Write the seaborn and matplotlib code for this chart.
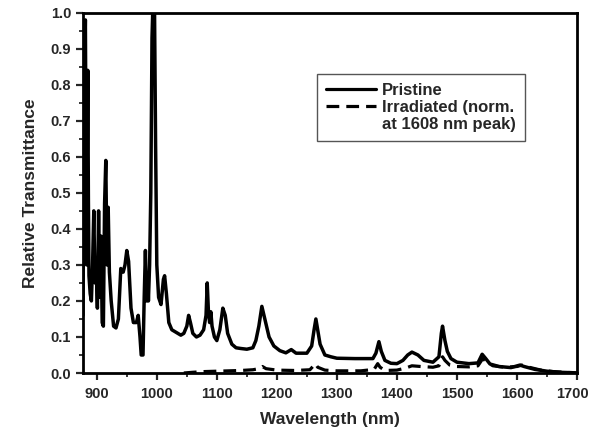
import numpy as np
import pandas as pd
import matplotlib
matplotlib.use("Agg")
import matplotlib.pyplot as plt
from matplotlib.lines import Line2D
from matplotlib.ticker import MultipleLocator, FormatStrFormatter
from matplotlib.transforms import ScaledTranslation
import seaborn as sns

# Pristine spectrum (wavelength nm, relative transmittance)
pristine_wl = [877, 879, 881, 883, 885, 886, 887, 889, 891, 893, 895, 897, 899, 901, 903, 905,
               907, 909, 911, 913, 915, 917, 919, 921, 924, 928, 932, 936, 940, 944, 947, 950,
               953, 957, 961, 966, 969, 972, 974, 977, 979, 981, 983, 985, 986, 988, 990, 992,
               994, 996, 998, 1000, 1003, 1007, 1011, 1013, 1016, 1020, 1025, 1035, 1040, 1045,
               1050, 1053, 1056, 1060, 1066, 1072, 1078, 1082, 1084, 1086, 1088, 1090, 1092,
               1096, 1100, 1105, 1110, 1114, 1118, 1125, 1132, 1140, 1150, 1160, 1165, 1170,
               1175, 1180, 1187, 1195, 1205, 1215, 1224, 1232, 1250, 1258, 1262, 1265, 1268,
               1272, 1280, 1290, 1300, 1330, 1360, 1365, 1370, 1374, 1380, 1390, 1400, 1410,
               1418, 1425, 1435, 1445, 1460, 1470, 1474, 1476, 1480, 1484, 1490, 1500, 1520,
               1535, 1542, 1548, 1555, 1570, 1590, 1605, 1612, 1630, 1650, 1670, 1690, 1700]
pristine_t = [0.16, 0.78, 0.98, 0.30, 0.84, 0.49, 0.27, 0.22, 0.20, 0.30, 0.45, 0.25, 0.30, 0.18,
              0.45, 0.21, 0.38, 0.14, 0.13, 0.47, 0.59, 0.30, 0.46, 0.28, 0.20, 0.13, 0.125, 0.15,
              0.29, 0.28, 0.30, 0.34, 0.31, 0.18, 0.14, 0.14, 0.16, 0.10, 0.05, 0.05, 0.21, 0.34,
              0.20, 0.27, 0.20, 0.30, 0.50, 0.93, 1.05, 1.05, 0.63, 0.30, 0.21, 0.19, 0.26, 0.27,
              0.22, 0.14, 0.12, 0.11, 0.105, 0.11, 0.13, 0.16, 0.14, 0.11, 0.10, 0.105, 0.12,
              0.16, 0.25, 0.17, 0.14, 0.17, 0.13, 0.10, 0.09, 0.12, 0.18, 0.16, 0.11, 0.08, 0.07,
              0.068, 0.066, 0.07, 0.09, 0.13, 0.185, 0.15, 0.10, 0.075, 0.062, 0.056, 0.065,
              0.055, 0.055, 0.075, 0.12, 0.15, 0.12, 0.08, 0.05, 0.045, 0.041, 0.040, 0.040,
              0.055, 0.087, 0.06, 0.035, 0.027, 0.026, 0.035, 0.05, 0.058, 0.05, 0.035, 0.03,
              0.045, 0.11, 0.13, 0.09, 0.06, 0.04, 0.03, 0.026, 0.028, 0.052, 0.04, 0.025, 0.018,
              0.015, 0.022, 0.018, 0.010, 0.005, 0.002, 0.001, 0.0]

# Irradiated spectrum (normalised at the 1608 nm peak)
irr_wl = [1045, 1060, 1080, 1100, 1120, 1140, 1160, 1170, 1176, 1182, 1200, 1230, 1255, 1260,
          1264, 1268, 1280, 1300, 1340, 1362, 1368, 1372, 1380, 1400, 1415, 1425, 1440, 1460,
          1470, 1476, 1480, 1488, 1500, 1520, 1535, 1543, 1550, 1560, 1580, 1600, 1608, 1620,
          1640, 1660, 1680, 1700]
irr_t = [0.0, 0.002, 0.004, 0.005, 0.006, 0.007, 0.009, 0.012, 0.018, 0.012, 0.008, 0.007,
         0.009, 0.018, 0.026, 0.016, 0.008, 0.006, 0.006, 0.010, 0.026, 0.016, 0.007, 0.008,
         0.014, 0.020, 0.018, 0.016, 0.020, 0.045, 0.035, 0.022, 0.018, 0.017, 0.020, 0.040,
         0.030, 0.020, 0.016, 0.018, 0.022, 0.016, 0.008, 0.004, 0.002, 0.0]

x_ticks = [900, 1000, 1100, 1200, 1300, 1400, 1500, 1600, 1700]

sns.set_style("ticks")
plt.rcParams['font.family'] = ['Liberation Sans', 'DejaVu Sans']
plt.rcParams['font.weight'] = 'bold'

fig = plt.figure(figsize=(5.91, 4.28), dpi=100)
ax = fig.add_axes([0.1404, 0.1285, 0.8359, 0.8418])

df_p = pd.DataFrame({"wl": pristine_wl, "t": pristine_t})
df_i = pd.DataFrame({"wl": irr_wl, "t": irr_t})
sns.lineplot(data=df_p, x="wl", y="t", ax=ax, color="black", lw=2.5, estimator=None, sort=False)
sns.lineplot(data=df_i, x="wl", y="t", ax=ax, color="black", lw=2.3, estimator=None, sort=False,
             linestyle=(0, (4, 2.2)))

ax.set_xlim(877, 1700)
ax.set_ylim(0, 1.0)
ax.set_xticks(x_ticks)
ax.xaxis.set_minor_locator(MultipleLocator(50))
ax.yaxis.set_major_locator(MultipleLocator(0.1))
ax.yaxis.set_minor_locator(MultipleLocator(0.05))
ax.yaxis.set_major_formatter(FormatStrFormatter('%.1f'))
ax.tick_params(which='major', direction='out', length=5, width=1.6, labelsize=10.5)
ax.tick_params(which='minor', direction='out', length=3, width=1.3)
ax.tick_params(axis='x', which='major', pad=5)
for lab in ax.get_xticklabels() + ax.get_yticklabels():
    lab.set_fontweight('bold')
# keep the last x label inside the figure edge
last = ax.xaxis.get_major_ticks()[-1].label1
last.set_transform(last.get_transform() + ScaledTranslation(-5 / 100, 0, fig.dpi_scale_trans))
for s in ax.spines.values():
    s.set_linewidth(2.0)
    s.set_color('black')

ax.set_xlabel("Wavelength (nm)", fontsize=12.5, fontweight='bold', labelpad=8)
ax.set_ylabel("Relative Transmittance", fontsize=12.5, fontweight='bold', labelpad=9)

handles = [Line2D([], [], color='black', lw=2.3),
           Line2D([], [], color='black', lw=2.3, linestyle=(0, (4, 2.2))),
           Line2D([], [], color='none')]
labels = ["Pristine", "Irradiated (norm.", "at 1608 nm peak)"]
leg = ax.legend(handles, labels, loc='upper left', bbox_to_anchor=(0.474, 0.83),
                borderaxespad=0, frameon=True, fancybox=False, framealpha=1,
                edgecolor='#555555', handlelength=3.0, handletextpad=0.35,
                labelspacing=0.12, borderpad=0.55, prop={'size': 12, 'weight': 'bold'})
leg.get_frame().set_linewidth(1.0)

fig.savefig("out.png", dpi=100)
